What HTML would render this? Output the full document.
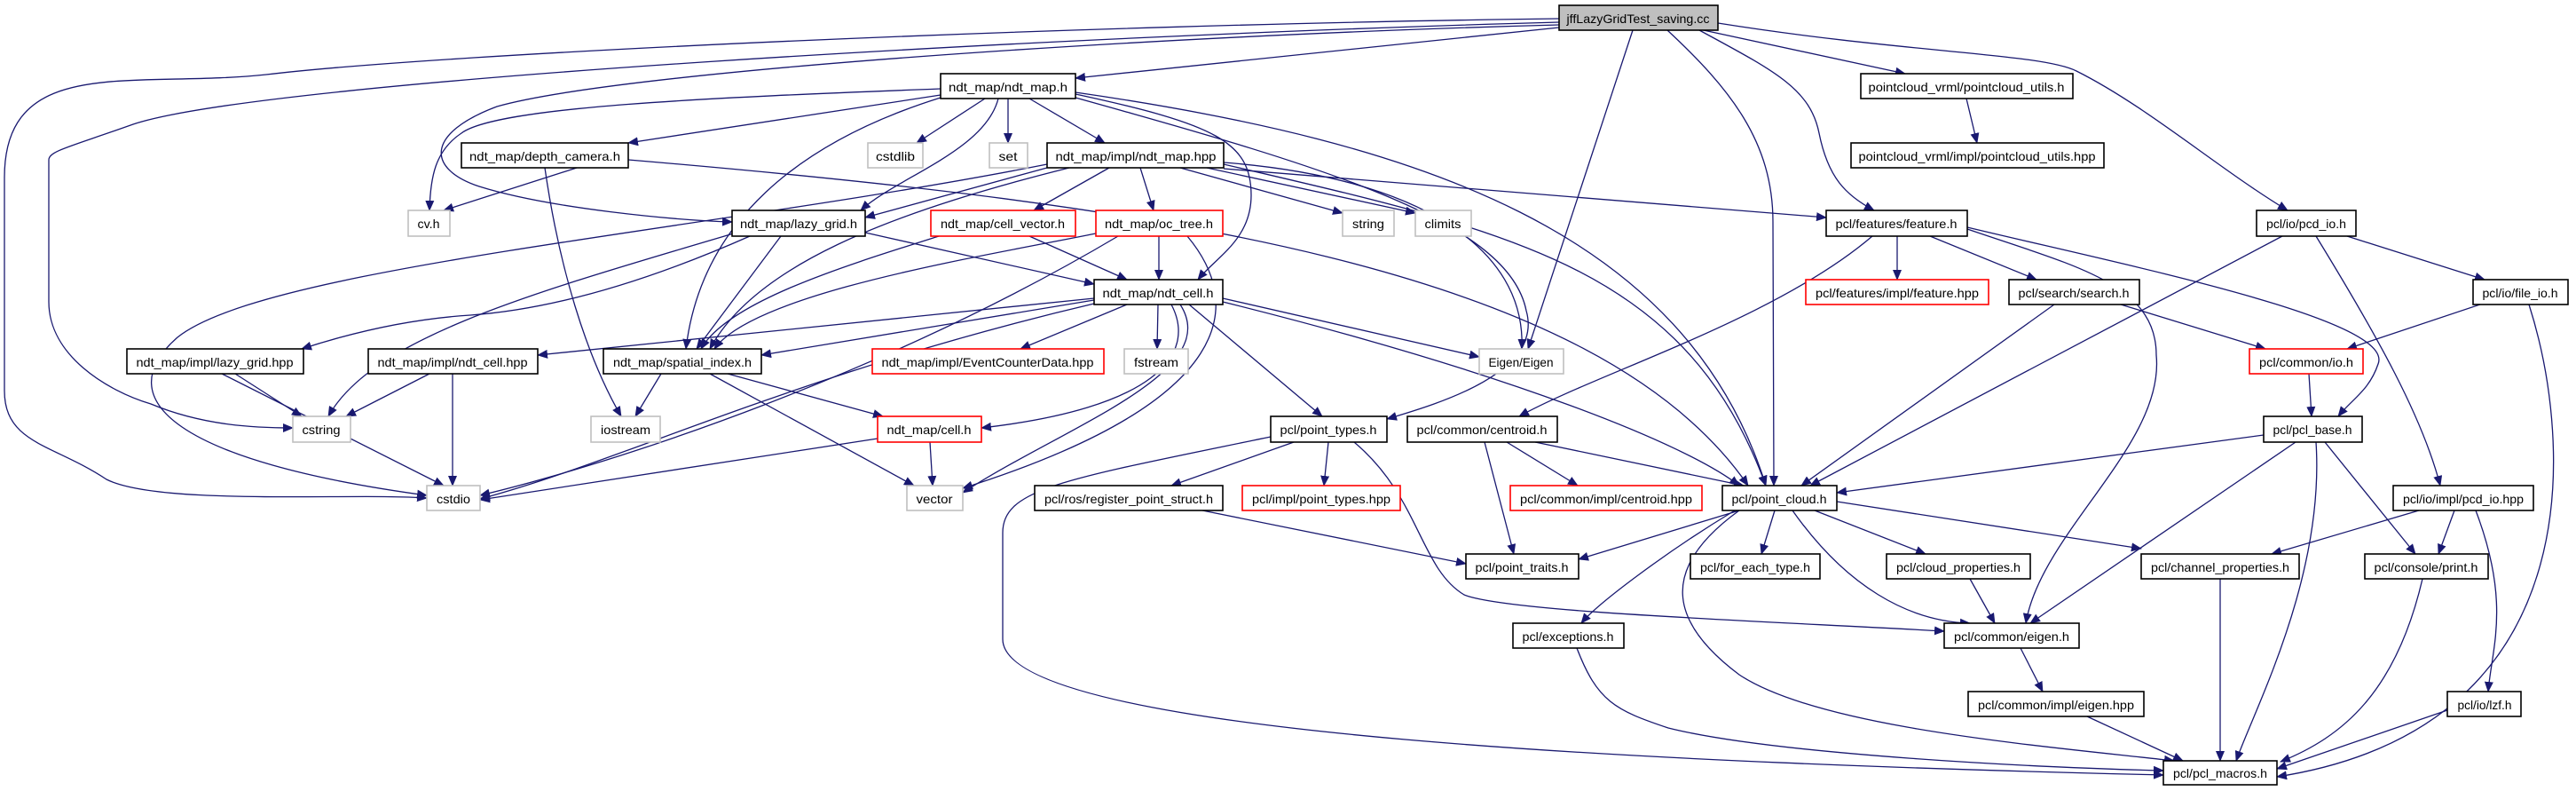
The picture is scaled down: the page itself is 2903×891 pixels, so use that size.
<!DOCTYPE html>
<html><head><meta charset="utf-8"><style>
html,body{margin:0;padding:0;background:#fff;}
svg{display:block;}
text{font-family:"Liberation Sans",sans-serif;font-size:14px;fill:#000;}
.e{fill:none;stroke:#191970;stroke-width:1.3;marker-end:url(#a);}
.n rect{fill:#fff;stroke:#000;stroke-width:1.6;}
.g rect{fill:#fff;stroke:#c0c0c0;stroke-width:1.6;}
.r rect{fill:#fff;stroke:#ff0000;stroke-width:1.6;}
</style></head><body>
<svg width="2903" height="891" viewBox="0 0 2903 891" xmlns="http://www.w3.org/2000/svg">
<defs><marker id="a" markerWidth="12" markerHeight="10" refX="11" refY="5" orient="auto" markerUnits="userSpaceOnUse"><path d="M0,0 L12,5 L0,10 Z" fill="#191970"/></marker></defs>
<g>
<path class="e" d="M1757,21 C1200,28 500,60 300,84 C150,100 5,60 5,200 L5,440 C5,500 60,500 120,540 C180,570 400,555 481,561"/>
<path class="e" d="M1757,25 C1200,40 300,90 150,140 C80,165 55,170 55,180 L55,340 C55,400 120,440 170,455 C230,480 290,482 330,482"/>
<path class="e" d="M1757,28 C1300,40 700,80 560,120 C480,150 480,190 540,210 C620,235 760,248 825,250"/>
<path class="e" d="M1757,31 L1212,88"/>
<path class="e" d="M1840,34 L1722,393"/>
<path class="e" d="M1879,34 C1950,100 1998,160 1998,250 L1999,547"/>
<path class="e" d="M1915,34 C2000,80 2040,100 2050,150 C2060,200 2080,220 2112,237"/>
<path class="e" d="M1915,33 L2147,83"/>
<path class="e" d="M2216,111 L2228,161"/>
<path class="e" d="M1936,26 C2150,60 2300,60 2340,80 C2420,120 2500,190 2578,237"/>
<path class="e" d="M1060,107 L708,161"/>
<path class="e" d="M1060,100 C800,110 560,120 520,150 C490,170 485,200 484,237"/>
<path class="e" d="M1110,111 L1033,161"/>
<path class="e" d="M1136,111 L1136,161"/>
<path class="e" d="M1160,111 L1245,161"/>
<path class="e" d="M1125,111 C1110,170 1010,200 970,237"/>
<path class="e" d="M1060,110 C900,160 790,250 773,393"/>
<path class="e" d="M1212,106 C1370,140 1410,160 1410,220 C1410,270 1370,290 1350,315"/>
<path class="e" d="M1212,110 C1500,190 1700,250 1720,350 C1740,420 1620,455 1563,472"/>
<path class="e" d="M1212,104 C1600,160 1900,260 1990,547"/>
<path class="e" d="M1250,189 L1165,237"/>
<path class="e" d="M1285,189 L1300,237"/>
<path class="e" d="M1330,189 L1513,240"/>
<path class="e" d="M1360,189 L1595,240"/>
<path class="e" d="M1180,189 L975,245"/>
<path class="e" d="M1205,189 C1000,240 850,300 800,393"/>
<path class="e" d="M1180,185 C800,260 300,300 200,380 C120,450 200,520 481,558"/>
<path class="e" d="M1379,185 C1700,260 1900,300 1990,547"/>
<path class="e" d="M1379,183 C1600,200 1720,280 1715,393"/>
<path class="e" d="M1379,190 L2058,245"/>
<path class="e" d="M650,189 L500,237"/>
<path class="e" d="M614,189 C630,300 660,400 700,469"/>
<path class="e" d="M708,180 C1300,230 1800,300 1970,547"/>
<path class="e" d="M975,262 L1233,320"/>
<path class="e" d="M880,266 L785,393"/>
<path class="e" d="M845,266 C700,330 600,350 530,355 C450,360 380,380 340,393"/>
<path class="e" d="M830,262 C600,330 420,380 370,469"/>
<path class="e" d="M1160,266 L1270,315"/>
<path class="e" d="M1058,266 C950,300 820,340 790,393"/>
<path class="e" d="M1306,266 L1306,315"/>
<path class="e" d="M1235,263 C1100,290 850,330 805,393"/>
<path class="e" d="M1338,266 C1400,340 1400,450 1085,550"/>
<path class="e" d="M1260,266 C1000,420 700,520 541,558"/>
<path class="e" d="M1233,338 L858,400"/>
<path class="e" d="M1233,336 L606,400"/>
<path class="e" d="M1270,343 L1150,393"/>
<path class="e" d="M1305,343 L1304,393"/>
<path class="e" d="M1378,336 L1667,402"/>
<path class="e" d="M1320,343 C1350,400 1300,460 1106,482"/>
<path class="e" d="M1330,343 C1380,420 1200,480 1085,555"/>
<path class="e" d="M1340,343 L1490,469"/>
<path class="e" d="M1378,340 C1700,420 1900,500 1960,547"/>
<path class="e" d="M1233,342 C900,420 700,520 541,562"/>
<path class="e" d="M745,421 L716,469"/>
<path class="e" d="M800,421 L1030,547"/>
<path class="e" d="M820,421 L995,469"/>
<path class="e" d="M265,421 L340,469"/>
<path class="e" d="M250,421 L500,547"/>
<path class="e" d="M484,421 L390,469"/>
<path class="e" d="M510,421 L510,547"/>
<path class="e" d="M1048,498 L1051,547"/>
<path class="e" d="M989,494 L541,563"/>
<path class="e" d="M1458,498 L1320,547"/>
<path class="e" d="M1497,498 L1492,547"/>
<path class="e" d="M1432,492 C1200,540 1130,550 1130,600 L1130,720 C1130,830 1900,860 2438,873"/>
<path class="e" d="M1526,498 C1600,560 1600,640 1650,670 C1700,690 2000,700 2191,711"/>
<path class="e" d="M1673,498 L1706,624"/>
<path class="e" d="M1698,498 L1778,547"/>
<path class="e" d="M1730,498 L1965,547"/>
<path class="e" d="M1355,575 L1652,635"/>
<path class="e" d="M2110,266 C2000,360 1800,420 1712,469"/>
<path class="e" d="M2138,266 L2138,315"/>
<path class="e" d="M2175,266 L2295,315"/>
<path class="e" d="M2217,258 C2340,300 2430,320 2430,400 C2440,500 2300,600 2283,702"/>
<path class="e" d="M2217,256 C2400,300 2700,360 2680,410 C2670,440 2650,450 2635,469"/>
<path class="e" d="M2315,343 L2030,547"/>
<path class="e" d="M2390,343 L2553,393"/>
<path class="e" d="M2572,266 L2040,547"/>
<path class="e" d="M2610,266 C2680,380 2730,470 2750,547"/>
<path class="e" d="M2645,266 L2800,315"/>
<path class="e" d="M2795,343 L2645,393"/>
<path class="e" d="M2850,343 C2900,500 2920,820 2566,875"/>
<path class="e" d="M2602,421 L2605,469"/>
<path class="e" d="M2551,490 L2070,555"/>
<path class="e" d="M2587,498 L2288,702"/>
<path class="e" d="M2610,498 C2620,650 2540,800 2520,857"/>
<path class="e" d="M2620,498 L2722,624"/>
<path class="e" d="M2726,575 L2560,624"/>
<path class="e" d="M2766,575 L2748,624"/>
<path class="e" d="M2790,575 C2830,680 2808,730 2804,779"/>
<path class="e" d="M1960,575 L1779,630"/>
<path class="e" d="M1955,575 C1880,620 1800,680 1782,702"/>
<path class="e" d="M2000,575 L1985,624"/>
<path class="e" d="M2045,575 L2170,624"/>
<path class="e" d="M2070,565 L2413,618"/>
<path class="e" d="M2020,575 C2080,660 2150,700 2220,702"/>
<path class="e" d="M1960,575 C1870,640 1880,700 1960,760 C2050,820 2300,840 2450,857"/>
<path class="e" d="M2220,652 L2248,702"/>
<path class="e" d="M2502,652 L2502,857"/>
<path class="e" d="M2730,652 C2700,780 2640,830 2570,858"/>
<path class="e" d="M2758,800 L2566,866"/>
<path class="e" d="M2277,730 L2302,779"/>
<path class="e" d="M2352,807 L2460,857"/>
<path class="e" d="M1777,730 C1800,790 1820,800 1880,820 C2000,850 2300,865 2438,868"/>
</g>
<g>
<g><rect x="1757" y="6" width="179" height="28" fill="#bfbfbf" stroke="#000" stroke-width="1.6"/><text x="1846" y="26" text-anchor="middle" textLength="161" lengthAdjust="spacingAndGlyphs">jffLazyGridTest_saving.cc</text></g>
<g class="n"><rect x="1060" y="83" width="152" height="28"/><text x="1136" y="103" text-anchor="middle" textLength="134" lengthAdjust="spacingAndGlyphs">ndt_map/ndt_map.h</text></g>
<g class="n"><rect x="2097" y="83" width="239" height="28"/><text x="2216" y="103" text-anchor="middle" textLength="221" lengthAdjust="spacingAndGlyphs">pointcloud_vrml/pointcloud_utils.h</text></g>
<g class="n"><rect x="520" y="161" width="188" height="28"/><text x="614" y="181" text-anchor="middle" textLength="170" lengthAdjust="spacingAndGlyphs">ndt_map/depth_camera.h</text></g>
<g class="g"><rect x="978" y="161" width="62" height="28"/><text x="1009" y="181" text-anchor="middle" textLength="44" lengthAdjust="spacingAndGlyphs">cstdlib</text></g>
<g class="g"><rect x="1115" y="161" width="43" height="28"/><text x="1136" y="181" text-anchor="middle" textLength="21" lengthAdjust="spacingAndGlyphs">set</text></g>
<g class="n"><rect x="1180" y="161" width="199" height="28"/><text x="1280" y="181" text-anchor="middle" textLength="181" lengthAdjust="spacingAndGlyphs">ndt_map/impl/ndt_map.hpp</text></g>
<g class="n"><rect x="2086" y="161" width="285" height="28"/><text x="2228" y="181" text-anchor="middle" textLength="267" lengthAdjust="spacingAndGlyphs">pointcloud_vrml/impl/pointcloud_utils.hpp</text></g>
<g class="g"><rect x="460" y="237" width="47" height="29"/><text x="483" y="257" text-anchor="middle" textLength="25" lengthAdjust="spacingAndGlyphs">cv.h</text></g>
<g class="n"><rect x="825" y="237" width="150" height="29"/><text x="900" y="257" text-anchor="middle" textLength="132" lengthAdjust="spacingAndGlyphs">ndt_map/lazy_grid.h</text></g>
<g class="r"><rect x="1049" y="237" width="163" height="29"/><text x="1130" y="257" text-anchor="middle" textLength="140" lengthAdjust="spacingAndGlyphs">ndt_map/cell_vector.h</text></g>
<g class="r"><rect x="1235" y="237" width="143" height="29"/><text x="1306" y="257" text-anchor="middle" textLength="122" lengthAdjust="spacingAndGlyphs">ndt_map/oc_tree.h</text></g>
<g class="g"><rect x="1513" y="237" width="58" height="29"/><text x="1542" y="257" text-anchor="middle" textLength="36" lengthAdjust="spacingAndGlyphs">string</text></g>
<g class="g"><rect x="1595" y="237" width="63" height="29"/><text x="1626" y="257" text-anchor="middle" textLength="41" lengthAdjust="spacingAndGlyphs">climits</text></g>
<g class="n"><rect x="2058" y="237" width="159" height="29"/><text x="2137" y="257" text-anchor="middle" textLength="137" lengthAdjust="spacingAndGlyphs">pcl/features/feature.h</text></g>
<g class="n"><rect x="2543" y="237" width="112" height="29"/><text x="2599" y="257" text-anchor="middle" textLength="90" lengthAdjust="spacingAndGlyphs">pcl/io/pcd_io.h</text></g>
<g class="n"><rect x="1233" y="315" width="145" height="28"/><text x="1305" y="335" text-anchor="middle" textLength="125" lengthAdjust="spacingAndGlyphs">ndt_map/ndt_cell.h</text></g>
<g class="r"><rect x="2035" y="315" width="206" height="28"/><text x="2138" y="335" text-anchor="middle" textLength="184" lengthAdjust="spacingAndGlyphs">pcl/features/impl/feature.hpp</text></g>
<g class="n"><rect x="2264" y="315" width="147" height="28"/><text x="2337" y="335" text-anchor="middle" textLength="125" lengthAdjust="spacingAndGlyphs">pcl/search/search.h</text></g>
<g class="n"><rect x="2787" y="315" width="107" height="28"/><text x="2840" y="335" text-anchor="middle" textLength="85" lengthAdjust="spacingAndGlyphs">pcl/io/file_io.h</text></g>
<g class="n"><rect x="143" y="393" width="199" height="28"/><text x="242" y="413" text-anchor="middle" textLength="177" lengthAdjust="spacingAndGlyphs">ndt_map/impl/lazy_grid.hpp</text></g>
<g class="n"><rect x="415" y="393" width="191" height="28"/><text x="510" y="413" text-anchor="middle" textLength="169" lengthAdjust="spacingAndGlyphs">ndt_map/impl/ndt_cell.hpp</text></g>
<g class="n"><rect x="680" y="393" width="178" height="28"/><text x="769" y="413" text-anchor="middle" textLength="156" lengthAdjust="spacingAndGlyphs">ndt_map/spatial_index.h</text></g>
<g class="r"><rect x="983" y="393" width="261" height="28"/><text x="1113" y="413" text-anchor="middle" textLength="239" lengthAdjust="spacingAndGlyphs">ndt_map/impl/EventCounterData.hpp</text></g>
<g class="g"><rect x="1267" y="393" width="72" height="28"/><text x="1303" y="413" text-anchor="middle" textLength="50" lengthAdjust="spacingAndGlyphs">fstream</text></g>
<g class="g"><rect x="1667" y="393" width="95" height="28"/><text x="1714" y="413" text-anchor="middle" textLength="73" lengthAdjust="spacingAndGlyphs">Eigen/Eigen</text></g>
<g class="r"><rect x="2535" y="393" width="128" height="28"/><text x="2599" y="413" text-anchor="middle" textLength="106" lengthAdjust="spacingAndGlyphs">pcl/common/io.h</text></g>
<g class="g"><rect x="330" y="469" width="65" height="29"/><text x="362" y="489" text-anchor="middle" textLength="43" lengthAdjust="spacingAndGlyphs">cstring</text></g>
<g class="g"><rect x="666" y="469" width="78" height="29"/><text x="705" y="489" text-anchor="middle" textLength="56" lengthAdjust="spacingAndGlyphs">iostream</text></g>
<g class="r"><rect x="989" y="469" width="117" height="29"/><text x="1047" y="489" text-anchor="middle" textLength="95" lengthAdjust="spacingAndGlyphs">ndt_map/cell.h</text></g>
<g class="n"><rect x="1432" y="469" width="131" height="29"/><text x="1497" y="489" text-anchor="middle" textLength="109" lengthAdjust="spacingAndGlyphs">pcl/point_types.h</text></g>
<g class="n"><rect x="1586" y="469" width="169" height="29"/><text x="1670" y="489" text-anchor="middle" textLength="147" lengthAdjust="spacingAndGlyphs">pcl/common/centroid.h</text></g>
<g class="n"><rect x="2551" y="469" width="111" height="29"/><text x="2606" y="489" text-anchor="middle" textLength="89" lengthAdjust="spacingAndGlyphs">pcl/pcl_base.h</text></g>
<g class="g"><rect x="481" y="547" width="60" height="28"/><text x="511" y="567" text-anchor="middle" textLength="38" lengthAdjust="spacingAndGlyphs">cstdio</text></g>
<g class="g"><rect x="1022" y="547" width="63" height="28"/><text x="1053" y="567" text-anchor="middle" textLength="41" lengthAdjust="spacingAndGlyphs">vector</text></g>
<g class="n"><rect x="1166" y="547" width="212" height="28"/><text x="1272" y="567" text-anchor="middle" textLength="190" lengthAdjust="spacingAndGlyphs">pcl/ros/register_point_struct.h</text></g>
<g class="r"><rect x="1400" y="547" width="178" height="28"/><text x="1489" y="567" text-anchor="middle" textLength="156" lengthAdjust="spacingAndGlyphs">pcl/impl/point_types.hpp</text></g>
<g class="r"><rect x="1702" y="547" width="216" height="28"/><text x="1810" y="567" text-anchor="middle" textLength="194" lengthAdjust="spacingAndGlyphs">pcl/common/impl/centroid.hpp</text></g>
<g class="n"><rect x="1941" y="547" width="129" height="28"/><text x="2005" y="567" text-anchor="middle" textLength="107" lengthAdjust="spacingAndGlyphs">pcl/point_cloud.h</text></g>
<g class="n"><rect x="2697" y="547" width="158" height="28"/><text x="2776" y="567" text-anchor="middle" textLength="136" lengthAdjust="spacingAndGlyphs">pcl/io/impl/pcd_io.hpp</text></g>
<g class="n"><rect x="1652" y="624" width="127" height="28"/><text x="1715" y="644" text-anchor="middle" textLength="105" lengthAdjust="spacingAndGlyphs">pcl/point_traits.h</text></g>
<g class="n"><rect x="1905" y="624" width="146" height="28"/><text x="1978" y="644" text-anchor="middle" textLength="124" lengthAdjust="spacingAndGlyphs">pcl/for_each_type.h</text></g>
<g class="n"><rect x="2126" y="624" width="162" height="28"/><text x="2207" y="644" text-anchor="middle" textLength="140" lengthAdjust="spacingAndGlyphs">pcl/cloud_properties.h</text></g>
<g class="n"><rect x="2413" y="624" width="178" height="28"/><text x="2502" y="644" text-anchor="middle" textLength="156" lengthAdjust="spacingAndGlyphs">pcl/channel_properties.h</text></g>
<g class="n"><rect x="2665" y="624" width="139" height="28"/><text x="2734" y="644" text-anchor="middle" textLength="117" lengthAdjust="spacingAndGlyphs">pcl/console/print.h</text></g>
<g class="n"><rect x="1705" y="702" width="125" height="28"/><text x="1767" y="722" text-anchor="middle" textLength="103" lengthAdjust="spacingAndGlyphs">pcl/exceptions.h</text></g>
<g class="n"><rect x="2191" y="702" width="152" height="28"/><text x="2267" y="722" text-anchor="middle" textLength="130" lengthAdjust="spacingAndGlyphs">pcl/common/eigen.h</text></g>
<g class="n"><rect x="2218" y="779" width="198" height="28"/><text x="2317" y="799" text-anchor="middle" textLength="176" lengthAdjust="spacingAndGlyphs">pcl/common/impl/eigen.hpp</text></g>
<g class="n"><rect x="2758" y="779" width="83" height="28"/><text x="2800" y="799" text-anchor="middle" textLength="61" lengthAdjust="spacingAndGlyphs">pcl/io/lzf.h</text></g>
<g class="n"><rect x="2438" y="857" width="128" height="27"/><text x="2502" y="876" text-anchor="middle" textLength="106" lengthAdjust="spacingAndGlyphs">pcl/pcl_macros.h</text></g>
</g>
</svg>
</body></html>
